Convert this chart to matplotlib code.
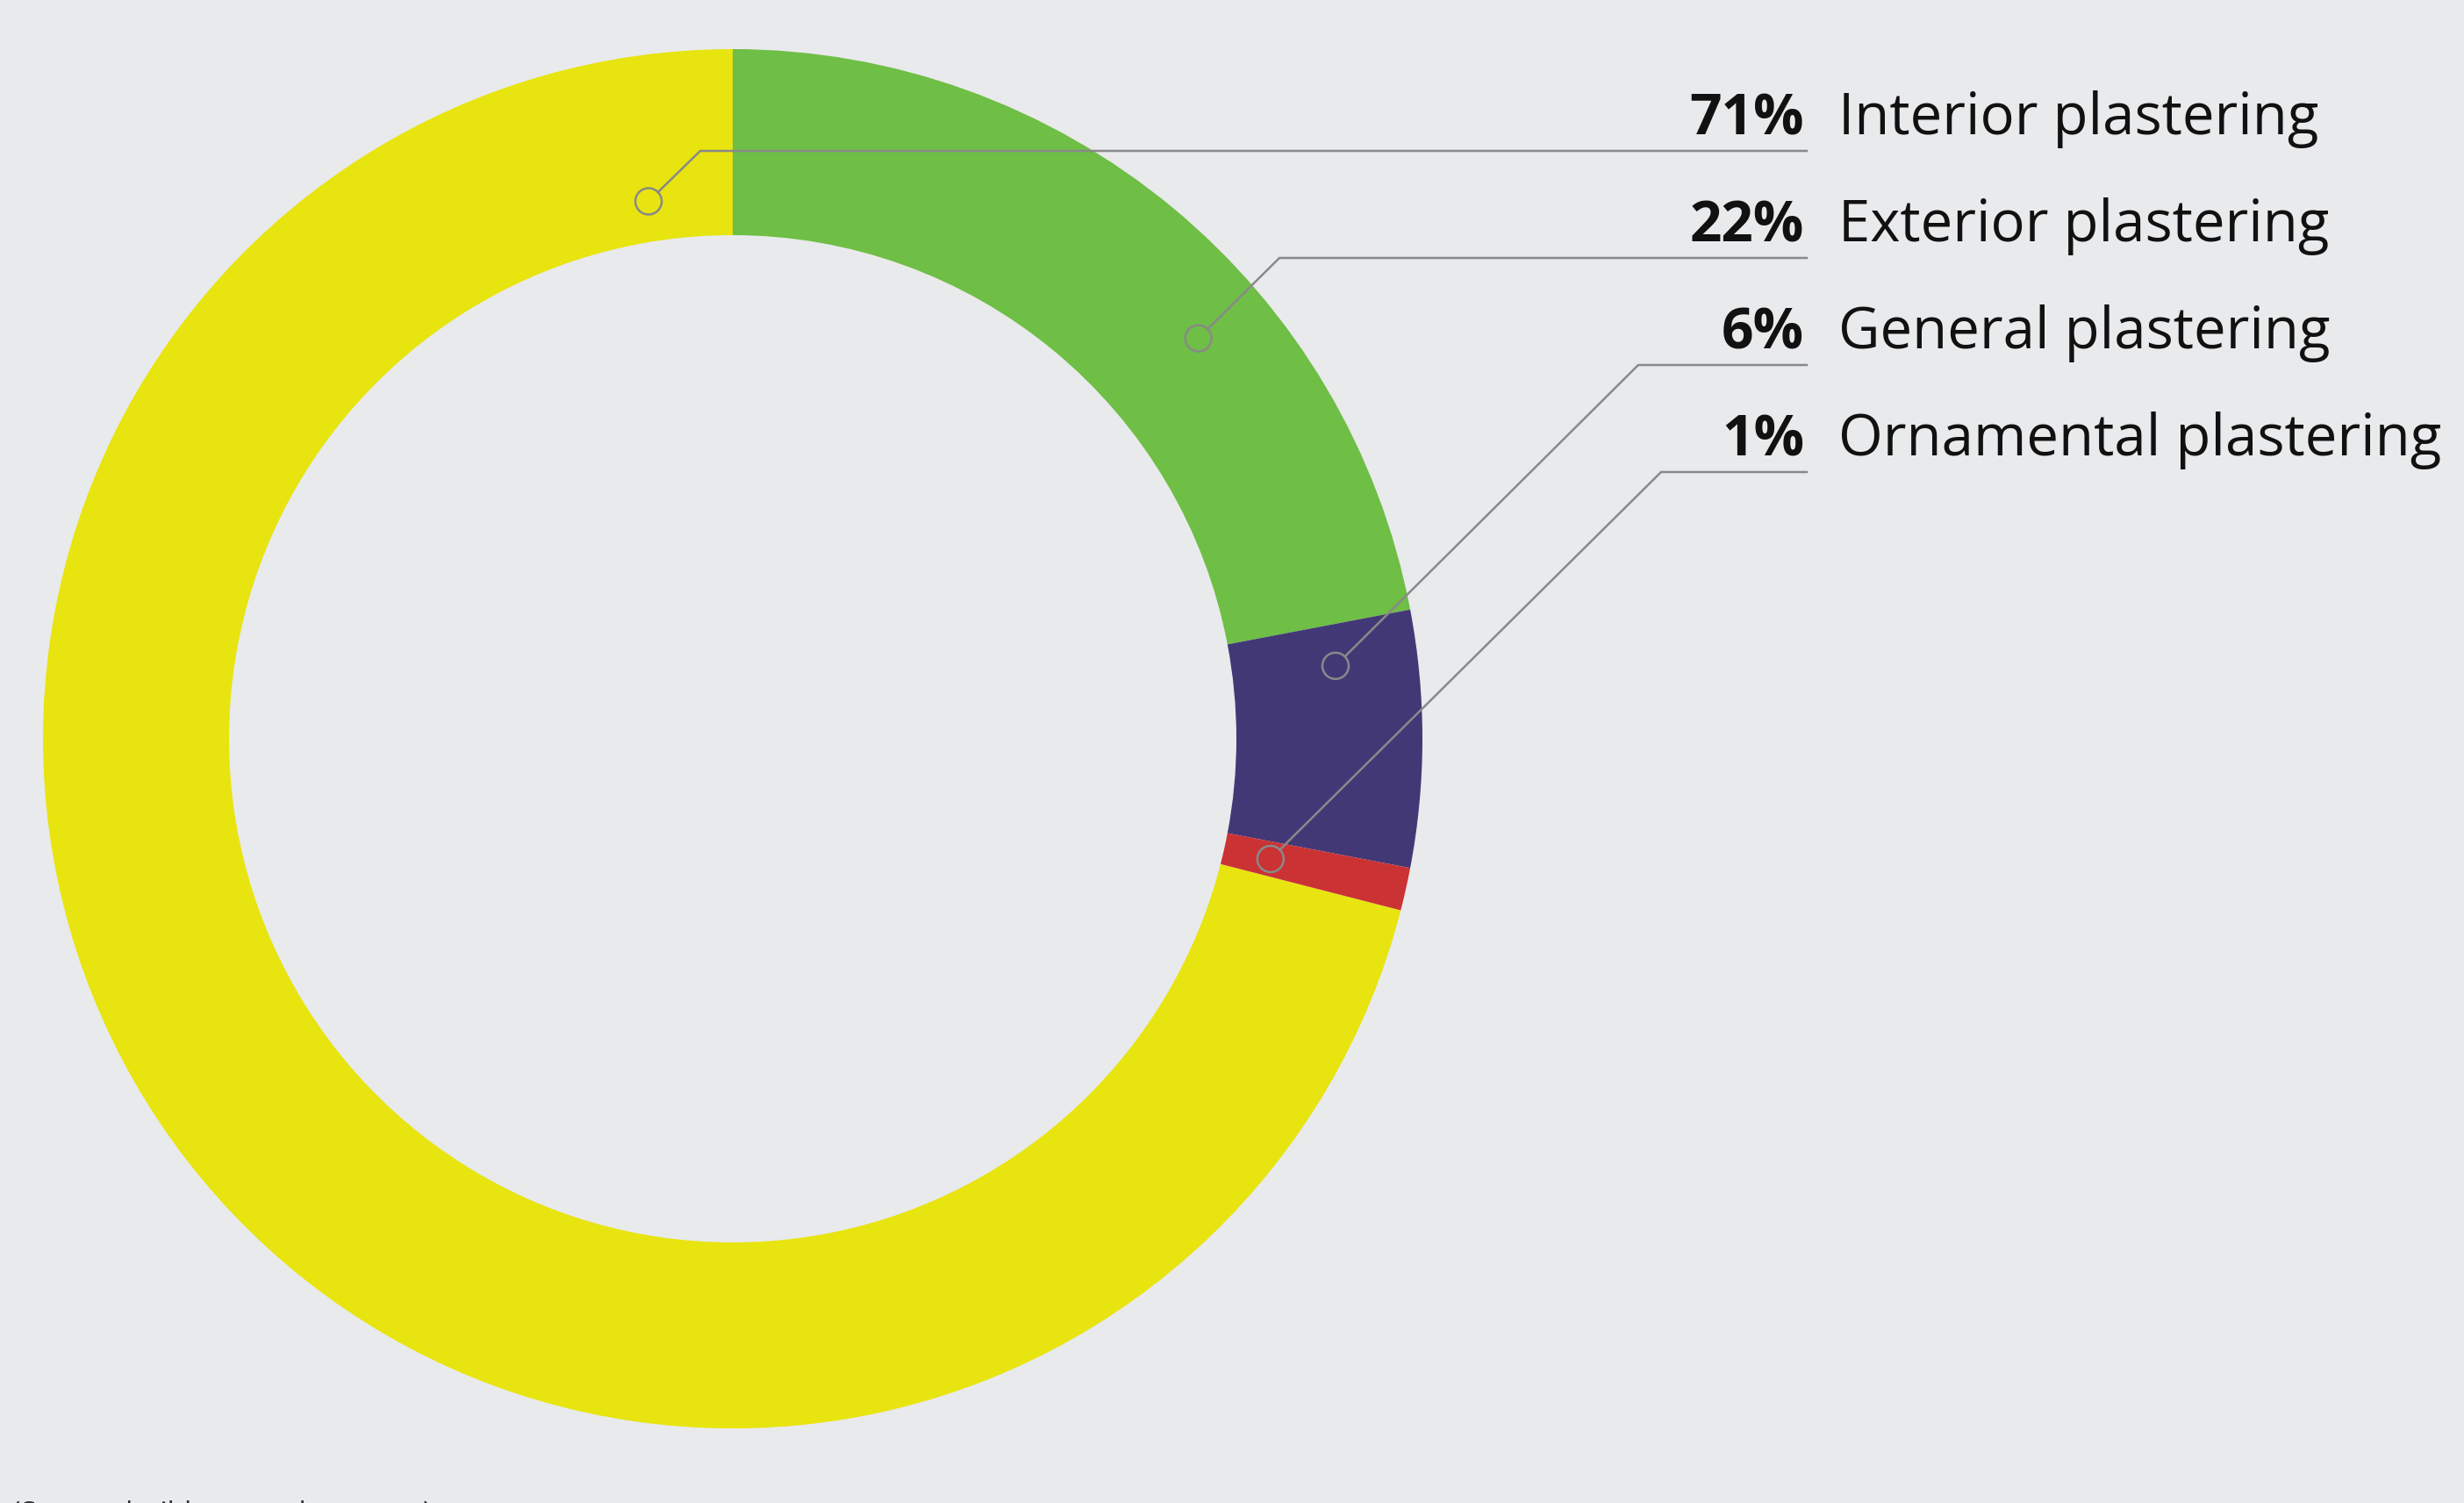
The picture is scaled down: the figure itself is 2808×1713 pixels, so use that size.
import numpy as np
import matplotlib.pyplot as plt
from matplotlib.patches import Circle

# data
categories = ["Interior plastering", "Exterior plastering",
              "General plastering", "Ornamental plastering"]
shares = [71, 22, 6, 1]
pct_labels = ["71%", "22%", "6%", "1%"]
source_note = "(Source: buildersmerchant.com)"

# styles / layout (pixel units, y measured from the top of the image)
COLORS = ["#E8E40F", "#6FBE45", "#433876", "#CB3234"]
BG = "#E9EAEC"
LINE = "#898989"
TEXT = "#111111"
W, H = 2808, 1713
CX, CY = 835, 842
R_OUT = 786
RING = 212
ANCHOR_ANGLE = [98.9, 40.7, 6.9, -12.6]
ANCHOR_R = [620, 700, 692, 628]
ROW_Y = [172, 294, 416, 538]
ELBOW_X = [798, 1458, 1867, 1893]
LINE_END = 2059
DOT_R = 15


def main():
    fig = plt.figure(figsize=(W / 100, H / 100), dpi=100, facecolor=BG)
    ax = fig.add_axes([0, 0, 1, 1])
    ax.set_facecolor(BG)

    # donut, clockwise, Exterior starts at 12 o'clock
    start = 90 + shares[0] * 3.6
    ax.pie(shares, colors=COLORS, radius=R_OUT, center=(CX, H - CY),
           startangle=start, counterclock=False,
           wedgeprops=dict(width=RING, linewidth=0))

    # callouts
    for i in range(len(categories)):
        a = np.radians(ANCHOR_ANGLE[i])
        px = CX + ANCHOR_R[i] * np.cos(a)
        py = H - CY + ANCHOR_R[i] * np.sin(a)
        ex, ey = ELBOW_X[i], H - ROW_Y[i]
        d = np.hypot(ex - px, ey - py)
        sx = px + DOT_R * (ex - px) / d
        sy = py + DOT_R * (ey - py) / d
        ax.plot([sx, ex, LINE_END], [sy, ey, ey], color=LINE, lw=1.8,
                solid_joinstyle="miter", zorder=3)
        ax.add_patch(Circle((px, py), DOT_R, fill=False, ec=LINE, lw=1.8,
                            zorder=3))
        ax.text(2056, ey + 19, pct_labels[i], ha="right", va="baseline",
                fontsize=46, fontweight="bold", family="Open Sans",
                color=TEXT)
        ax.text(2095, ey + 19, categories[i], ha="left", va="baseline",
                fontsize=47, fontweight="medium", family="Open Sans",
                color=TEXT)

    ax.text(14, 3, source_note, ha="left", va="top", fontsize=23,
            family="Open Sans", color="#333333")

    ax.set_xlim(0, W)
    ax.set_ylim(0, H)
    ax.set_aspect("equal")
    ax.axis("off")
    fig.savefig("out.png", dpi=100, facecolor=BG)


if __name__ == "__main__":
    main()
